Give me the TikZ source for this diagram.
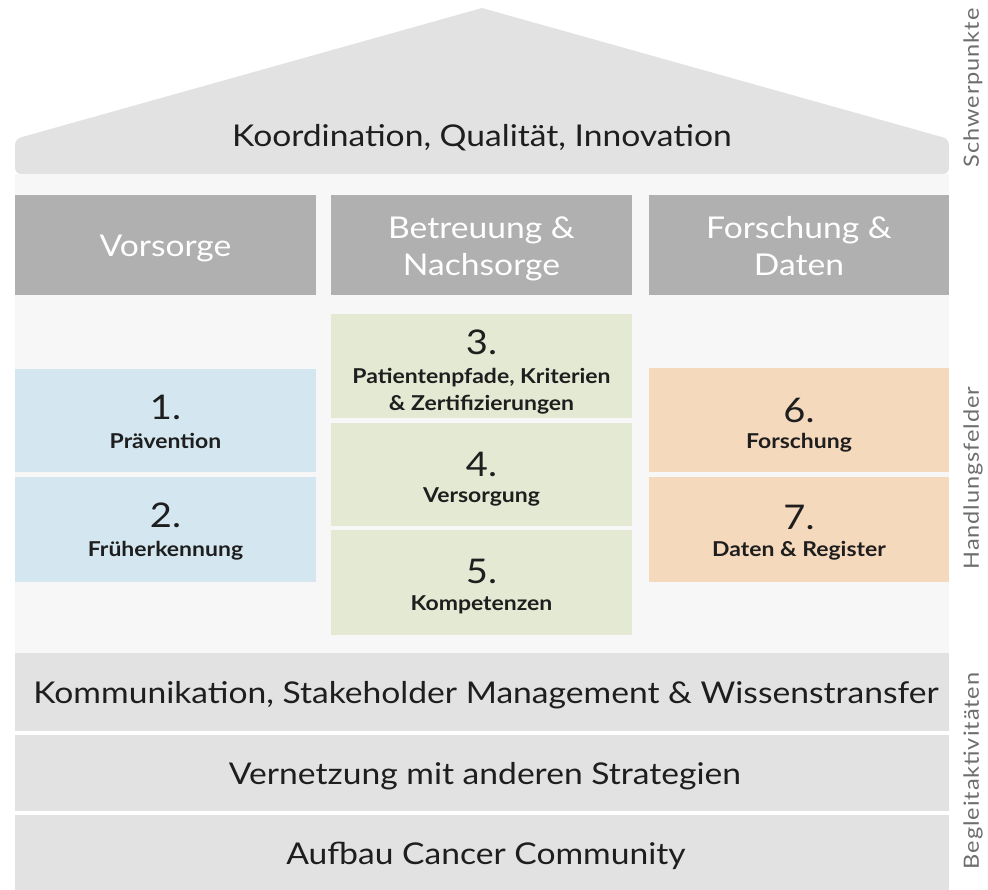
\documentclass[tikz,border=0pt]{standalone}
\usepackage{fontspec}
\setmainfont[FakeStretch=1.12]{Lato}

\definecolor{roofgrey}{HTML}{E2E2E2}
\definecolor{fieldbg}{HTML}{F7F7F7}
\definecolor{headgrey}{HTML}{B0B0B1}
\definecolor{fieldblue}{HTML}{D4E7F1}
\definecolor{fieldgreen}{HTML}{E4E9D3}
\definecolor{fieldorange}{HTML}{F5D9BC}
\definecolor{sidegrey}{HTML}{6E6E6E}
\definecolor{inkgrey}{HTML}{1E1E1E}

\tikzset{
    bigtext/.style={font=\fontsize{30}{37}\selectfont, text=inkgrey, anchor=base, inner sep=0pt},
    headtext/.style={font=\fontsize{30}{37}\selectfont, text=white, anchor=base, inner sep=0pt, align=center},
    numtext/.style={font=\fontsize{34}{36}\selectfont, text=inkgrey, anchor=base, inner sep=0pt},
    labeltext/.style={font=\fontsize{20.5}{27}\selectfont\bfseries, text=inkgrey, anchor=base, inner sep=0pt, align=center},
    sidetext/.style={font=\fontsize{21}{24}\selectfont\addfontfeature{LetterSpace=4.5}, text=sidegrey, rotate=90, inner sep=0pt}
}

\begin{document}
\begin{tikzpicture}[x=1pt, y=-1pt]
    \useasboundingbox (0, 0) rectangle (988, 890);

    % Roof with the overall focus
    \fill[roofgrey] (482, 8) [rounded corners=6pt] -- (949, 139) -- (949, 174)
        -- (15, 174) -- (15, 139) [sharp corners] -- cycle;
    \node[bigtext] (roof) at (482, 147) {Koordination, Qualität, Innovation};

    % Light background behind the fields
    \fill[fieldbg] (15, 174) rectangle (949, 653);

    % Three column headers
    \foreach \x/\w in {15/301, 331/301, 649/300}
        \fill[headgrey] (\x, 195) rectangle +(\w, 100);
    \node[headtext] (vorsorge) at (165.5, 257) {Vorsorge};
    \node[headtext] (betreuung) at (481.5, 276) {Betreuung \&\\Nachsorge};
    \node[headtext] (forschung) at (799, 276) {Forschung \&\\Daten};

    % Coloured fields of action
    \foreach \x/\w/\ya/\yb/\col in {
        15/301/369/472/fieldblue, 15/301/477/582/fieldblue,
        331/301/314/418/fieldgreen, 331/301/423/526/fieldgreen, 331/301/530/635/fieldgreen,
        649/300/368/472/fieldorange, 649/300/477/582/fieldorange}
        \fill[\col] (\x, \ya) rectangle (\x + \w, \yb);

    % Numbers and names of the fields
    \foreach \n/\x/\y in {
        1/165.5/420, 2/165.5/527, 3/481.5/355, 4/481.5/476,
        5/481.5/583, 6/799/422, 7/799/529}
        \node[numtext] (num\n) at (\x, \y) {\n.};
    \node[labeltext] (lab1) at (165.5, 448) {Prävention};
    \node[labeltext] (lab2) at (165.5, 556) {Früherkennung};
    \node[labeltext] (lab3) at (481.5, 410) {Patientenpfade, Kriterien\\\& Zertifizierungen};
    \node[labeltext] (lab4) at (481.5, 502) {Versorgung};
    \node[labeltext] (lab5) at (481.5, 610) {Kompetenzen};
    \node[labeltext] (lab6) at (799, 448) {Forschung};
    \node[labeltext] (lab7) at (799, 556) {Daten \& Register};

    % Accompanying activities at the base
    \foreach \ya/\yb in {653/731, 735/811, 815/890}
        \fill[roofgrey] (15, \ya) rectangle (949, \yb);
    \node[bigtext] (komm) at (486, 703) {Kommunikation, Stakeholder Management \& Wissenstransfer};
    \node[bigtext] (netz) at (485, 784) {Vernetzung mit anderen Strategien};
    \node[bigtext] (comm) at (486, 864) {Aufbau Cancer Community};

    % Side captions
    \node[sidetext] (schwer) at (973, 88) {Schwerpunkte};
    \node[sidetext] (handl) at (973, 478) {Handlungsfelder};
    \node[sidetext] (begl) at (973, 771) {Begleitaktivitäten};
\end{tikzpicture}
\end{document}
